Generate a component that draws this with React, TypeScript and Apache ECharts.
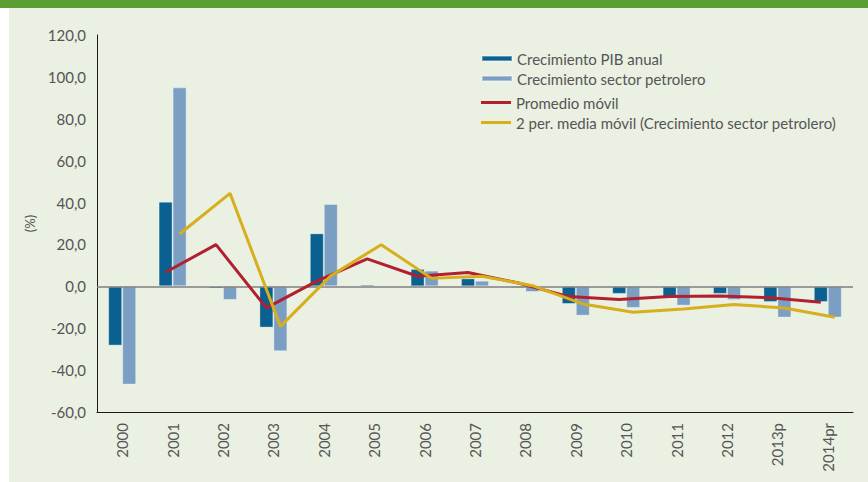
import React, { useEffect, useRef } from "react";
import * as echarts from "echarts";

const categories = ["2000", "2001", "2002", "2003", "2004", "2005", "2006", "2007", "2008", "2009", "2010", "2011", "2012", "2013p", "2014pr"];
const pibGrowth = [-28.3, 40.4, -1.0, -19.7, 25.3, 0.8, 8.3, 3.8, -0.8, -8.4, -3.6, -5.5, -3.6, -7.5, -7.5];
const oilGrowth = [-46.9, 95.0, -6.5, -31.0, 39.3, -0.6, 7.5, 2.7, -2.7, -14.0, -10.3, -9.2, -6.5, -14.9, -14.9];
const movingAvg: (number | null)[] = [null, 6.7, 19.9, -10.3, 2.5, 13.1, 4.8, 6.6, 1.6, -4.9, -6.3, -4.8, -4.6, -5.5, -7.6];
const oilMovingAvg: (number | null)[] = [null, 25.0, 44.4, -19.1, 5.0, 19.9, 3.8, 4.8, 0.3, -8.4, -12.4, -10.8, -8.7, -10.3, -14.8];
const yTicks = { min: -60, max: 120, interval: 20 };

const FONT = "Lato";
const TEXT = "#555555";

export default function App() {
  const ref = useRef<HTMLDivElement>(null);
  useEffect(() => {
    document.body.style.margin = "0";
    if (!ref.current) return;
    const chart = echarts.init(ref.current, undefined, { renderer: "svg" });
    const barW = 14;
    const catW = (868 - 97 - 15) / categories.length;
    const off = barW / 2 / catW;
    const toPts = (arr: (number | null)[], o: number) =>
      arr.map((v, i) => (v === null ? null : [i + o, v])).filter((p) => p !== null);
    chart.setOption({
      animation: false,
      backgroundColor: "transparent",
      textStyle: { fontFamily: FONT },
      grid: { left: 97, right: 15, top: 35, bottom: 70 },
      legend: [
        {
          orient: "vertical",
          left: 476,
          top: 46,
          itemWidth: 30,
          itemHeight: 5,
          itemGap: 5,
          icon: "rect",
          data: ["Crecimiento PIB anual", "Crecimiento sector petrolero"],
          textStyle: { color: TEXT, fontSize: 15, fontFamily: FONT },
        },
        {
          orient: "vertical",
          left: 476,
          top: 90,
          itemWidth: 30,
          itemHeight: 3,
          itemGap: 5,
          icon: "rect",
          data: ["Promedio móvil", "2 per. media móvil (Crecimiento sector petrolero)"],
          textStyle: { color: TEXT, fontSize: 15, fontFamily: FONT },
        },
      ],
      xAxis: [
        {
          type: "category",
          data: categories,
          position: "bottom",
          axisLine: { onZero: false, lineStyle: { color: "#1a1a1a", width: 1 } },
          axisTick: { show: false },
          axisLabel: { rotate: 90, color: TEXT, fontSize: 15, fontFamily: FONT, margin: 11 },
          splitLine: { show: false },
        },
        {
          type: "value",
          min: -0.5,
          max: categories.length - 0.5,
          show: false,
          splitLine: { show: false },
        },
      ],
      yAxis: {
        type: "value",
        min: yTicks.min,
        max: yTicks.max,
        interval: yTicks.interval,
        name: "(%)",
        nameLocation: "middle",
        nameGap: 60,
        nameRotate: 90,
        nameTextStyle: { color: TEXT, fontSize: 13, fontFamily: FONT },
        axisLine: { show: true, onZero: false, lineStyle: { color: "#1a1a1a", width: 1 } },
        axisTick: { show: false },
        splitLine: { show: false },
        axisLabel: {
          color: TEXT,
          fontSize: 15,
          fontFamily: FONT,
          margin: 11,
          formatter: (v: number) => v.toFixed(1).replace(".", ","),
        },
      },
      series: [
        {
          name: "Crecimiento PIB anual",
          type: "bar",
          data: pibGrowth,
          barWidth: barW,
          barGap: "0%",
          itemStyle: { color: "#0A6090", borderColor: "rgba(255,255,255,0.35)", borderWidth: 1 },
          markLine: {
            silent: true,
            symbol: "none",
            label: { show: false },
            lineStyle: { color: "#808080", width: 1.5, type: "solid" },
            data: [{ yAxis: 0 }],
          },
        },
        {
          name: "Crecimiento sector petrolero",
          type: "bar",
          data: oilGrowth,
          barWidth: barW,
          barGap: "0%",
          itemStyle: { color: "#7B9FC3", borderColor: "rgba(255,255,255,0.35)", borderWidth: 1 },
        },
        {
          name: "Promedio móvil",
          type: "line",
          xAxisIndex: 1,
          data: toPts(movingAvg, -off),
          showSymbol: false,
          symbol: "none",
          itemStyle: { color: "#B2202F" },
          lineStyle: { color: "#B2202F", width: 3 },
          z: 5,
        },
        {
          name: "2 per. media móvil (Crecimiento sector petrolero)",
          type: "line",
          xAxisIndex: 1,
          data: toPts(oilMovingAvg, off),
          showSymbol: false,
          symbol: "none",
          itemStyle: { color: "#D7AE1C" },
          lineStyle: { color: "#D7AE1C", width: 3 },
          z: 5,
        },
      ],
    });
    return () => chart.dispose();
  }, []);

  return (
    <div style={{ position: "relative", width: 868, height: 482, background: "#ffffff", overflow: "hidden" }}>
      <div style={{ position: "absolute", left: 9, top: 0, width: 859, height: 482, background: "#EAF0E2" }} />
      <div style={{ position: "absolute", left: 0, top: 0, width: 868, height: 8, background: "#5B9E36" }} />
      <div ref={ref} style={{ position: "absolute", left: 0, top: 0, width: 868, height: 482 }} />
    </div>
  );
}
